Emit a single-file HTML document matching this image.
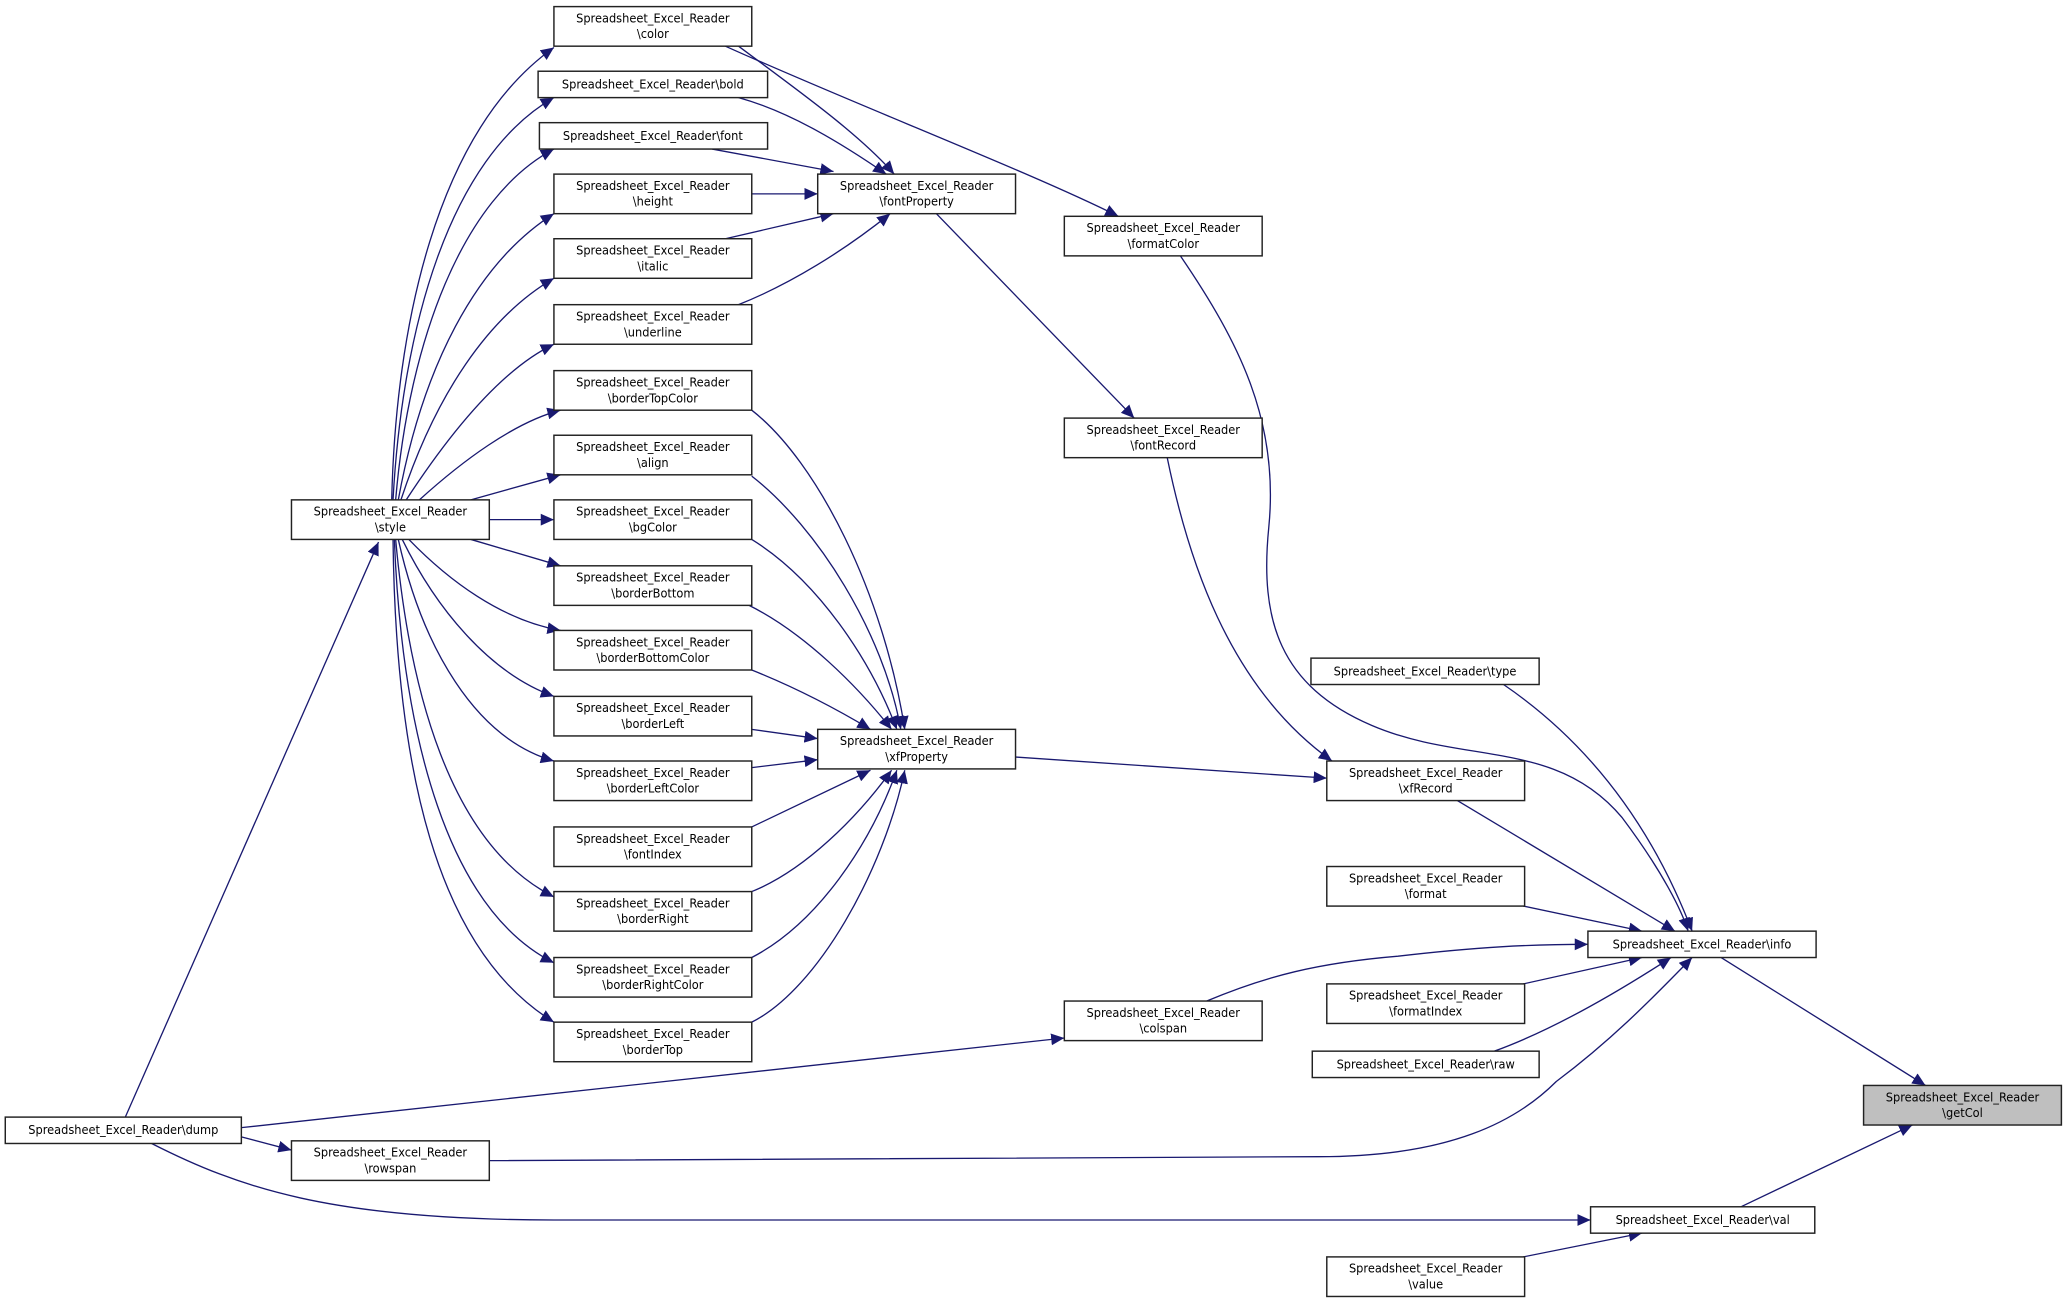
<!DOCTYPE html>
<html><head><meta charset="utf-8"><style>
html,body{margin:0;padding:0;background:#fff;}
svg{display:block}
text{font-family:"DejaVu Sans Condensed","Liberation Sans",sans-serif;font-size:9.6px;fill:#000;text-anchor:middle}
.b{fill:#fff;stroke:#222;stroke-width:1.1}
.e{fill:none;stroke:#191970;stroke-width:1}
</style></head><body>
<svg width="2068" height="1304" viewBox="0 0 1568 988.7" xmlns="http://www.w3.org/2000/svg">
<defs><marker id="a" markerUnits="userSpaceOnUse" markerWidth="11" markerHeight="9" refX="10" refY="4.5" orient="auto"><path d="M0,0 L10,4.5 L0,9 z" fill="#191970"/></marker></defs>
<g class="e" marker-end="url(#a)">
<path d="M297,379 C300,250 330,100 420,36"/>
<path d="M298,379 C305,250 340,120 420,74"/>
<path d="M300,379 C310,260 350,150 420,113"/>
<path d="M302,379 C320,280 360,200 420,162"/>
<path d="M304,379 C330,300 370,240 420,211"/>
<path d="M308,379 C340,330 380,280 420,261"/>
<path d="M318,379 C350,350 390,320 425,311"/>
<path d="M357,379 L425,360"/>
<path d="M371,394 L420,394"/>
<path d="M357,409 L425,429"/>
<path d="M310,409 C340,440 380,470 425,478"/>
<path d="M305,409 C330,460 370,510 420,528"/>
<path d="M302,409 C320,490 360,560 420,577"/>
<path d="M300,409 C310,520 340,640 420,680"/>
<path d="M299,409 C305,560 340,690 420,730"/>
<path d="M298,409 C300,580 330,720 420,775"/>
<path d="M560,35 C600,65 650,100 678,132"/>
<path d="M550,35 C650,80 780,130 848,164"/>
<path d="M560,74 C600,85 640,110 672,132"/>
<path d="M540,113 L632,130"/>
<path d="M570,147 L620,147"/>
<path d="M550,181 L632,162"/>
<path d="M560,231 C600,215 640,190 675,162"/>
<path d="M710,162 L860,317"/>
<path d="M885,347 C900,420 930,520 1010,577"/>
<path d="M895,194 C940,260 970,320 962,400 C955,470 970,520 1040,550 C1110,580 1180,560 1230,620 C1260,660 1275,690 1280,706"/>
<path d="M1140,519 C1200,560 1250,620 1283,706"/>
<path d="M1105,607 L1270,706"/>
<path d="M1155,687 L1245,706"/>
<path d="M915,759 C960,740 1000,730 1060,725 C1120,718 1160,716 1204,716"/>
<path d="M1155,746 L1245,726"/>
<path d="M1133,797 C1180,780 1230,750 1267,726"/>
<path d="M371,880 L1000,877 C1100,877 1150,850 1180,820 C1220,790 1250,760 1283,726"/>
<path d="M1305,726 L1460,823"/>
<path d="M1320,915 L1450,853"/>
<path d="M1155,953 L1245,935"/>
<path d="M115,867 C180,900 250,925 420,925 L1206,925"/>
<path d="M95,847 L287,411"/>
<path d="M183,862 L221,872"/>
<path d="M183,855 L807,787"/>
<path d="M770,574 L1006,590"/>
<path d="M570,311 C620,350 670,450 686,553"/>
<path d="M570,361 C620,400 670,480 683,553"/>
<path d="M570,409 C620,440 660,500 680,553"/>
<path d="M568,459 C610,480 650,520 676,553"/>
<path d="M570,508 C600,520 630,535 660,553"/>
<path d="M570,553 L620,560"/>
<path d="M570,582 L620,576"/>
<path d="M570,627 L660,584"/>
<path d="M570,676 C610,660 650,620 676,584"/>
<path d="M570,726 C620,700 660,640 680,584"/>
<path d="M570,775 C620,750 670,660 686,584"/>
</g>
<g>
<rect class="b" x="420" y="5" width="150" height="30"/><text x="495" y="17">Spreadsheet_Excel_Reader</text><text x="495" y="29">\color</text>
<rect class="b" x="408" y="54" width="174" height="20"/><text x="495" y="67">Spreadsheet_Excel_Reader\bold</text>
<rect class="b" x="409" y="93" width="173" height="20"/><text x="495" y="106">Spreadsheet_Excel_Reader\font</text>
<rect class="b" x="420" y="132" width="150" height="30"/><text x="495" y="144">Spreadsheet_Excel_Reader</text><text x="495" y="156">\height</text>
<rect class="b" x="420" y="181" width="150" height="30"/><text x="495" y="193">Spreadsheet_Excel_Reader</text><text x="495" y="205">\italic</text>
<rect class="b" x="420" y="231" width="150" height="30"/><text x="495" y="243">Spreadsheet_Excel_Reader</text><text x="495" y="255">\underline</text>
<rect class="b" x="420" y="281" width="150" height="30"/><text x="495" y="293">Spreadsheet_Excel_Reader</text><text x="495" y="305">\borderTopColor</text>
<rect class="b" x="420" y="330" width="150" height="30"/><text x="495" y="342">Spreadsheet_Excel_Reader</text><text x="495" y="354">\align</text>
<rect class="b" x="420" y="379" width="150" height="30"/><text x="495" y="391">Spreadsheet_Excel_Reader</text><text x="495" y="403">\bgColor</text>
<rect class="b" x="420" y="429" width="150" height="30"/><text x="495" y="441">Spreadsheet_Excel_Reader</text><text x="495" y="453">\borderBottom</text>
<rect class="b" x="420" y="478" width="150" height="30"/><text x="495" y="490">Spreadsheet_Excel_Reader</text><text x="495" y="502">\borderBottomColor</text>
<rect class="b" x="420" y="528" width="150" height="30"/><text x="495" y="540">Spreadsheet_Excel_Reader</text><text x="495" y="552">\borderLeft</text>
<rect class="b" x="420" y="577" width="150" height="30"/><text x="495" y="589">Spreadsheet_Excel_Reader</text><text x="495" y="601">\borderLeftColor</text>
<rect class="b" x="420" y="627" width="150" height="30"/><text x="495" y="639">Spreadsheet_Excel_Reader</text><text x="495" y="651">\fontIndex</text>
<rect class="b" x="420" y="676" width="150" height="30"/><text x="495" y="688">Spreadsheet_Excel_Reader</text><text x="495" y="700">\borderRight</text>
<rect class="b" x="420" y="726" width="150" height="30"/><text x="495" y="738">Spreadsheet_Excel_Reader</text><text x="495" y="750">\borderRightColor</text>
<rect class="b" x="420" y="775" width="150" height="30"/><text x="495" y="787">Spreadsheet_Excel_Reader</text><text x="495" y="799">\borderTop</text>
<rect class="b" x="620" y="132" width="150" height="30"/><text x="695" y="144">Spreadsheet_Excel_Reader</text><text x="695" y="156">\fontProperty</text>
<rect class="b" x="620" y="553" width="150" height="30"/><text x="695" y="565">Spreadsheet_Excel_Reader</text><text x="695" y="577">\xfProperty</text>
<rect class="b" x="807" y="164" width="150" height="30"/><text x="882" y="176">Spreadsheet_Excel_Reader</text><text x="882" y="188">\formatColor</text>
<rect class="b" x="807" y="317" width="150" height="30"/><text x="882" y="329">Spreadsheet_Excel_Reader</text><text x="882" y="341">\fontRecord</text>
<rect class="b" x="221" y="379" width="150" height="30"/><text x="296" y="391">Spreadsheet_Excel_Reader</text><text x="296" y="403">\style</text>
<rect class="b" x="4" y="847" width="179" height="20"/><text x="93.5" y="860">Spreadsheet_Excel_Reader\dump</text>
<rect class="b" x="221" y="865" width="150" height="30"/><text x="296" y="877">Spreadsheet_Excel_Reader</text><text x="296" y="889">\rowspan</text>
<rect class="b" x="807" y="759" width="150" height="30"/><text x="882" y="771">Spreadsheet_Excel_Reader</text><text x="882" y="783">\colspan</text>
<rect class="b" x="994" y="499" width="173" height="20"/><text x="1080.5" y="512">Spreadsheet_Excel_Reader\type</text>
<rect class="b" x="1006" y="577" width="150" height="30"/><text x="1081" y="589">Spreadsheet_Excel_Reader</text><text x="1081" y="601">\xfRecord</text>
<rect class="b" x="1006" y="657" width="150" height="30"/><text x="1081" y="669">Spreadsheet_Excel_Reader</text><text x="1081" y="681">\format</text>
<rect class="b" x="1204" y="706" width="173" height="20"/><text x="1290.5" y="719">Spreadsheet_Excel_Reader\info</text>
<rect class="b" x="1006" y="746" width="150" height="30"/><text x="1081" y="758">Spreadsheet_Excel_Reader</text><text x="1081" y="770">\formatIndex</text>
<rect class="b" x="995" y="797" width="172" height="20"/><text x="1081" y="810">Spreadsheet_Excel_Reader\raw</text>
<rect class="b" x="1413" y="823" width="150" height="30" style="fill:#bfbfbf"/><text x="1488" y="835">Spreadsheet_Excel_Reader</text><text x="1488" y="847">\getCol</text>
<rect class="b" x="1206" y="915" width="170" height="20"/><text x="1291" y="928">Spreadsheet_Excel_Reader\val</text>
<rect class="b" x="1006" y="953" width="150" height="30"/><text x="1081" y="965">Spreadsheet_Excel_Reader</text><text x="1081" y="977">\value</text>
</g>
</svg>
</body></html>
